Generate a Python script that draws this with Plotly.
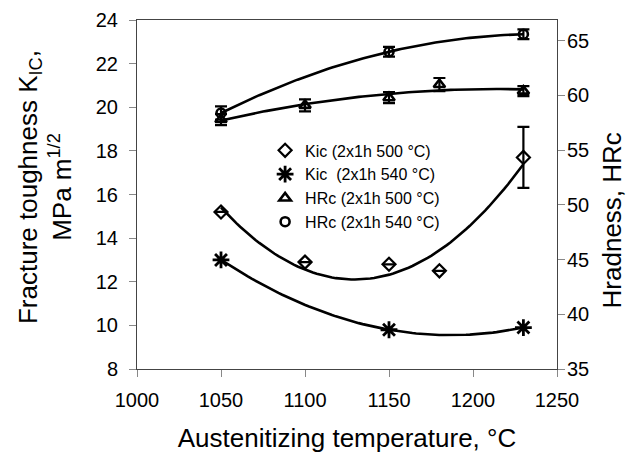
import numpy as np
import plotly.graph_objects as go

# Data
kic500_x = [1050, 1100, 1150, 1180, 1230]
kic500_y = [15.2, 12.9, 12.8, 12.5, 17.7]
kic500_err = [0, 0, 0, 0, 1.4]

kic540_x = [1050, 1150, 1230]
kic540_y = [13.0, 9.8, 9.9]

hrc500_x = [1050, 1100, 1150, 1180, 1230]
hrc500_y = [57.8, 59.1, 59.8, 61.0, 60.4]
hrc500_err = [0.5, 0.55, 0.5, 0.6, 0.45]

hrc540_x = [1050, 1150, 1230]
hrc540_y = [58.4, 64.0, 65.6]
hrc540_err = [0.6, 0.45, 0.45]

FONT = "Liberation Sans, Arial, sans-serif"
fig = go.Figure()

def trend(x, y, yaxis):
    c = np.polyfit(x, y, 2)
    xs = np.linspace(min(x), max(x), 80)
    fig.add_trace(go.Scatter(x=xs, y=np.polyval(c, xs), mode="lines",
                             line=dict(color="black", width=2.6),
                             showlegend=False, hoverinfo="skip", yaxis=yaxis))

trend(kic500_x, kic500_y, "y")
trend(kic540_x, kic540_y, "y")
trend(hrc500_x, hrc500_y, "y2")
trend(hrc540_x, hrc540_y, "y2")

err_style = dict(color="black", thickness=2.2, width=6)

fig.add_trace(go.Scatter(x=kic500_x, y=kic500_y, mode="markers", name="Kic (2x1h 500 °C)",
                         marker=dict(symbol="diamond-open", size=10, color="black", line=dict(width=2.2)),
                         error_y=dict(type="data", array=kic500_err, visible=True, **err_style)))
fig.add_trace(go.Scatter(x=kic540_x, y=kic540_y, mode="markers", name="Kic  (2x1h 540 °C)",
                         marker=dict(symbol="asterisk-open", size=14, color="black", line=dict(width=2.8, color="black"))))
fig.add_trace(go.Scatter(x=hrc500_x, y=hrc500_y, mode="markers", name="HRc (2x1h 500 °C)", yaxis="y2",
                         marker=dict(symbol="triangle-up-open", size=10, color="black", line=dict(width=2.6)),
                         error_y=dict(type="data", array=hrc500_err, visible=True, **err_style)))
fig.add_trace(go.Scatter(x=hrc540_x, y=hrc540_y, mode="markers", name="HRc (2x1h 540 °C)", yaxis="y2",
                         marker=dict(symbol="circle-open", size=9, color="black", line=dict(width=2.6)),
                         error_y=dict(type="data", array=hrc540_err, visible=True, **err_style)))

axis_common = dict(showgrid=False, zeroline=False, showline=True, linecolor="#444", linewidth=1,
                   ticks="outside", ticklen=7, tickcolor="#888", automargin=False,
                   tickfont=dict(family=FONT, size=20, color="black"))

fig.update_layout(
    width=634, height=453,
    margin=dict(l=137, r=77, t=20, b=84),
    paper_bgcolor="white", plot_bgcolor="white",
    font=dict(family=FONT, color="black"),
    xaxis=dict(range=[1000, 1250], dtick=50, mirror=True, ticklabelstandoff=6,
               title=dict(text="Austenitizing temperature, °C", font=dict(size=26), standoff=20),
               **axis_common),
    yaxis=dict(range=[8, 24], dtick=2, ticklabelstandoff=7, **axis_common),
    yaxis2=dict(range=[35, 66.9], tickvals=[35, 40, 45, 50, 55, 60, 65], overlaying="y", side="right",
                ticklabelstandoff=-2, **axis_common),
    legend=dict(x=0.305, y=0.675, xanchor="left", yanchor="top", bgcolor="rgba(0,0,0,0)",
                font=dict(family=FONT, size=16, color="black"), tracegroupgap=0, itemwidth=30),
    showlegend=True,
    annotations=[
        dict(text="Fracture toughness K<sub>IC</sub>,<br>MPa m<sup>1/2</sup>", textangle=-90,
             xref="paper", yref="paper", x=-0.219, y=0.5215, xanchor="center", yanchor="middle",
             showarrow=False, align="center", font=dict(family=FONT, size=26, color="black")),
        dict(text="Hradness, HRc", textangle=-90,
             xref="paper", yref="paper", x=1.132, y=0.427, xanchor="center", yanchor="middle",
             showarrow=False, font=dict(family=FONT, size=26, color="black")),
    ],
)

fig.write_html("out.html", config={"displayModeBar": False},
               post_script="document.body.style.margin='0';document.body.style.overflow='hidden';")
